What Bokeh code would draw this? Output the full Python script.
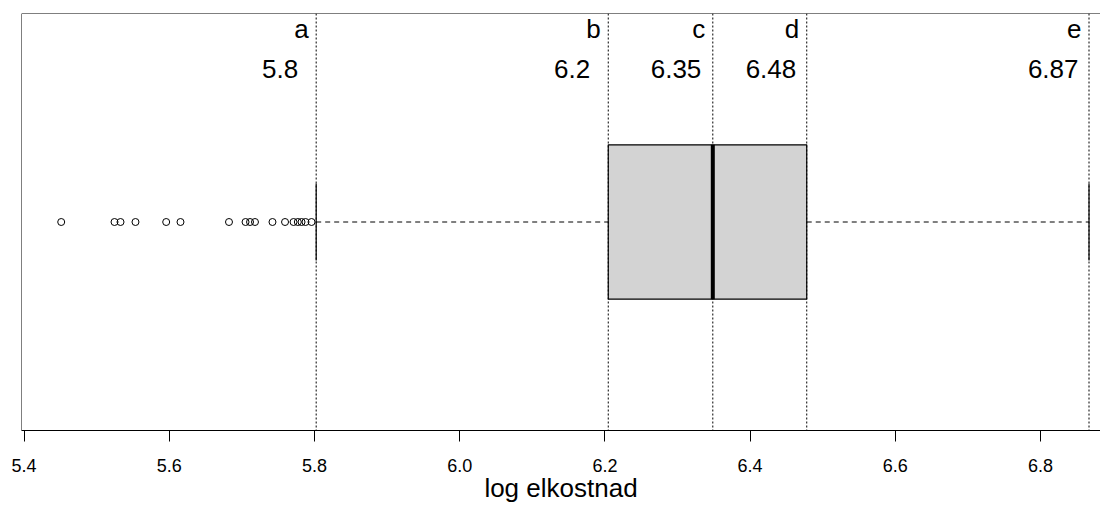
from bokeh.plotting import figure
from bokeh.models import Range1d, FixedTicker, Span, ColumnDataSource
from bokeh.core.properties import value
from bokeh.embed import file_html
from bokeh.resources import INLINE

# ---- data ----
outliers = [5.4511, 5.5245, 5.5328, 5.5534, 5.5957, 5.6154, 5.6822, 5.7050,
            5.7112, 5.7180, 5.7421, 5.7594, 5.7711, 5.7770, 5.7821, 5.7876, 5.7959]
lower_whisker = 5.8023
q1 = 6.2046
median = 6.3486
q3 = 6.4780
upper_whisker = 6.8668
marker_values = [lower_whisker, q1, median, q3, upper_whisker]
marker_letters = ["a", "b", "c", "d", "e"]
marker_texts = ["5.8", "6.2", "6.35", "6.48", "6.87"]
tick_values = [5.4, 5.6, 5.8, 6.0, 6.2, 6.4, 6.6, 6.8]
tick_labels = ["5.4", "5.6", "5.8", "6.0", "6.2", "6.4", "6.6", "6.8"]
x_title = "log elkostnad"

FONT = "Liberation Sans"
W, H = 1100, 505
LEFT, TOP, BOTTOM = 21, 13, 75
PX_PER_UNIT = 726.0
x0 = 5.3964
x1 = x0 + (W - LEFT) / PX_PER_UNIT
y0, y1 = 0.46, 1.54
pos = 1.0
half = 0.2
cap = 0.1

p = figure(width=W, height=H, x_range=Range1d(x0, x1), y_range=Range1d(y0, y1),
           output_backend="svg", toolbar_location=None, y_axis_location=None,
           min_border_left=LEFT, min_border_right=0, min_border_top=TOP,
           min_border_bottom=BOTTOM)
p.outline_line_color = None
p.xgrid.visible = False
p.ygrid.visible = False
p.background_fill_color = "white"
p.border_fill_color = "white"

# frame left & top
p.add_layout(Span(location=x0, dimension="height", line_color="black", line_width=1))
p.add_layout(Span(location=y1, dimension="width", line_color="black", line_width=1))

# vertical dotted reference lines
for v in marker_values:
    p.add_layout(Span(location=v, dimension="height", line_color="black",
                      line_width=1, line_dash="2 2"))

# whiskers
p.segment(x0=[lower_whisker, q3], y0=[pos, pos], x1=[q1, upper_whisker], y1=[pos, pos],
          line_color="black", line_width=1, line_dash="5 4")
p.segment(x0=[lower_whisker, upper_whisker], y0=[pos - cap] * 2,
          x1=[lower_whisker, upper_whisker], y1=[pos + cap] * 2,
          line_color="black", line_width=1.2)

# box
p.quad(left=[q1], right=[q3], bottom=[pos - half], top=[pos + half],
       fill_color="#D3D3D3", line_color="black", line_width=1.2)
p.segment(x0=[median], y0=[pos - half], x1=[median], y1=[pos + half],
          line_color="black", line_width=4)

# outliers
p.scatter(x=outliers, y=[pos] * len(outliers), size=7, marker="circle",
          fill_color=None, line_color="black", line_width=1)

# annotations
letters_src = ColumnDataSource(dict(x=marker_values, y=[y1] * 5, t=marker_letters))
p.text(x="x", y="y", text="t", source=letters_src, text_align="right",
       text_baseline="alphabetic", x_offset=-7.5, y_offset=15,
       text_font=value(FONT), text_font_size="26px", text_color="black")
num_offsets = [-18, -18, -11.5, -10.5, -10.5]
nums_src = ColumnDataSource(dict(x=marker_values, y=[y1] * 5, t=marker_texts, xo=num_offsets))
p.text(x="x", y="y", text="t", source=nums_src, text_align="right",
       text_baseline="alphabetic", x_offset="xo", y_offset=55,
       text_font=value(FONT), text_font_size="26px", text_color="black")

# axis
ax = p.xaxis[0]
ax.ticker = FixedTicker(ticks=tick_values)
ax.major_label_overrides = {v: s for v, s in zip(tick_values, tick_labels)}
ax.major_label_text_font = FONT
ax.major_label_text_font_size = "18px"
ax.major_label_text_color = "black"
ax.major_label_standoff = 17
ax.major_tick_out = 11
ax.major_tick_in = 0
ax.minor_tick_out = 0
ax.minor_tick_in = 0
ax.major_tick_line_color = "black"
ax.axis_line_color = "black"
ax.axis_label = x_title
ax.axis_label_text_font = FONT
ax.axis_label_text_font_size = "26px"
ax.axis_label_text_font_style = "normal"
ax.axis_label_text_color = "black"
ax.axis_label_standoff = -2

open("out.html", "w").write(file_html(p, INLINE))
